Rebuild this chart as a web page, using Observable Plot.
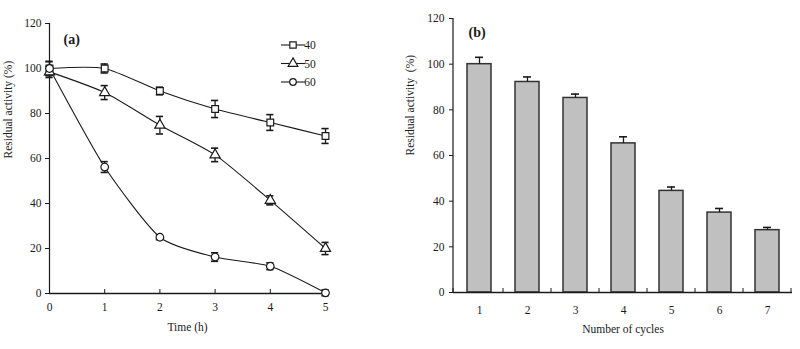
<!DOCTYPE html>
<html>
<head>
<meta charset="utf-8">
<script src="https://cdn.jsdelivr.net/npm/d3@7"></script>
<script src="https://cdn.jsdelivr.net/npm/@observablehq/plot@0.6"></script>
<style>
  body { margin: 0; background: #fff; font-family: 'Liberation Serif', serif; }
  #wrap { display: flex; width: 800px; height: 349px; }
  svg text { font-family: 'Liberation Serif', serif; }
</style>
</head>
<body>
<div id="wrap"></div>
<script>
// ---- Panel (a): residual activity vs time at three temperatures ----
const hours = [0, 1, 2, 3, 4, 5];
const seriesNames = ["40", "50", "60"];
const act40 = [100, 100, 90, 82, 76, 70];
const err40 = [3.2, 2.0, 1.7, 3.8, 3.5, 3.3];
const act50 = [98.5, 89.3, 74.8, 61.6, 41.4, 20];
const err50 = [2.5, 3.1, 3.9, 3.0, 2.0, 2.7];
const act60 = [100, 56.2, 25, 16.2, 12.1, 0.3];
const err60 = [3.0, 2.4, 1.1, 1.9, 1.5, 1.3];
const yTicks = [0, 20, 40, 60, 80, 100, 120];

// ---- Panel (b): residual activity vs number of cycles ----
const cycles = ["1", "2", "3", "4", "5", "6", "7"];
const cycleAct = [100, 92.2, 85.2, 65.3, 44.5, 35, 27.3];
const cycleErr = [3, 2.2, 1.7, 2.9, 1.7, 1.8, 1.2];

const font = "'Liberation Serif', serif";
const ink = "#1a1a1a";
const fs = 11.5;

const actBySeries = [act40, act50, act60];
const errBySeries = [err40, err50, err60];
const rowsA = seriesNames.flatMap((s, k) =>
  hours.map((h, i) => ({series: s, x: h, y: actBySeries[k][i], e: errBySeries[k][i]}))
);
const symbols = ["square", "triangle", "circle"];

const chartA = Plot.plot({
  width: 400, height: 349,
  marginLeft: 49, marginRight: 75, marginTop: 23, marginBottom: 56,
  style: {fontFamily: font, fontSize: fs + "px", color: ink, background: "white", overflow: "visible"},
  x: {domain: [0, 5]},
  y: {domain: [0, 120]},
  symbol: {domain: seriesNames, range: symbols},
  marks: [
    Plot.axisY({ticks: yTicks, tickSize: 4, tickPadding: 4, label: null, stroke: ink, tickFormat: d => String(d)}),
    Plot.axisX({ticks: hours, tickSize: 0, tickPadding: 9, label: null, tickFormat: d => String(d)}),
    Plot.axisX({ticks: hours.slice(1), tickSize: 4, dy: -4, text: null, label: null, stroke: ink}),
    Plot.ruleX([0], {y1: 0, y2: 120, stroke: ink, strokeWidth: 1.2}),
    Plot.ruleY([0], {stroke: ink, strokeWidth: 1.6}),
    Plot.line(rowsA, {x: "x", y: "y", z: "series", curve: "cardinal", tension: 0.35, stroke: ink, strokeWidth: 1.1}),
    Plot.ruleX(rowsA, {x: "x", y1: d => d.y - d.e, y2: d => d.y + d.e, stroke: ink, strokeWidth: 1.3}),
    Plot.ruleY(rowsA, {y: d => d.y + d.e, x1: d => d.x - 0.065, x2: d => d.x + 0.065, stroke: ink, strokeWidth: 1.6}),
    Plot.ruleY(rowsA, {y: d => d.y - d.e, x1: d => d.x - 0.065, x2: d => d.x + 0.065, stroke: ink, strokeWidth: 1.6}),
    Plot.dot(rowsA, {x: "x", y: "y", symbol: "series", r: 3.8, fill: "white", stroke: ink, strokeWidth: 1.2}),
    Plot.text(["(a)"], {frameAnchor: "top-left", dx: 14, dy: 11, textAnchor: "start", fontWeight: "bold", fontSize: 14}),
    Plot.text(["Residual activity (%)"], {frameAnchor: "left", dx: -41, rotate: -90, fontSize: fs}),
    Plot.text(["Time (h)"], {frameAnchor: "bottom", dy: 37, fontSize: fs})
  ]
});

// legend for panel (a)
{
  const svg = d3.select(chartA);
  const g = svg.append("g").attr("font-family", font).attr("font-size", fs).attr("fill", ink);
  seriesNames.forEach((s, i) => {
    const y = 45 + i * 18.5;
    g.append("line").attr("x1", 281).attr("x2", 305).attr("y1", y).attr("y2", y)
      .attr("stroke", ink).attr("stroke-width", 1.1);
    const sym = [d3.symbolSquare, d3.symbolTriangle, d3.symbolCircle][i];
    const r = i === 2 ? 3.3 : 3.6;
    g.append("path").attr("d", d3.symbol(sym, Math.PI * r * r)())
      .attr("transform", `translate(293,${y})`)
      .attr("fill", "white").attr("stroke", ink).attr("stroke-width", 1.2);
    g.append("text").attr("x", 310).attr("y", y).attr("dy", "0.35em").text(s);
  });
}

const rowsB = cycles.map((c, i) => ({c, v: cycleAct[i], e: cycleErr[i]}));

const chartB = Plot.plot({
  width: 400, height: 349,
  marginLeft: 53, marginRight: 8, marginTop: 18, marginBottom: 57,
  style: {fontFamily: font, fontSize: fs + "px", color: ink, background: "white", overflow: "visible"},
  x: {domain: cycles, paddingInner: 0.5, paddingOuter: 0.25},
  y: {domain: [0, 120]},
  marks: [
    Plot.barY(rowsB, {x: "c", y: "v", fill: "#c0c0c0", stroke: "#333", strokeWidth: 1.5}),
    Plot.ruleX(rowsB, {x: "c", y1: "v", y2: d => d.v + d.e, stroke: ink, strokeWidth: 1.3}),
    Plot.tickY(rowsB, {x: "c", y: d => d.v + d.e, insetLeft: 8, insetRight: 8, stroke: ink, strokeWidth: 1.6}),
    Plot.axisY({ticks: yTicks, tickSize: 4, tickPadding: 5, label: null, stroke: ink, tickFormat: d => String(d)}),
    Plot.axisX({tickSize: 0, tickPadding: 13, label: null}),
    Plot.ruleY([0], {stroke: ink, strokeWidth: 1.4}),
    Plot.text(["(b)"], {frameAnchor: "top-left", dx: 15, dy: 9, textAnchor: "start", fontWeight: "bold", fontSize: 14}),
    Plot.text(["Residual activity  (%)"], {frameAnchor: "left", dx: -43, rotate: -90, fontSize: fs}),
    Plot.text(["Number of cycles"], {frameAnchor: "bottom", dy: 40, fontSize: fs})
  ]
});

// y-axis line and between-category ticks for panel (b)
{
  const sx = chartB.scale("x"), sy = chartB.scale("y");
  const svg = d3.select(chartB);
  const y0 = sy.apply(0), yTop = sy.apply(120);
  const x0 = sx.range[0];
  const g = svg.append("g").attr("stroke", ink);
  g.append("line").attr("x1", x0).attr("x2", x0).attr("y1", y0).attr("y2", yTop).attr("stroke-width", 1.2);
  const bounds = [x0, ...cycles.map(c => sx.apply(c) + sx.bandwidth / 2 + sx.step / 2)];
  bounds.forEach(b => {
    g.append("line").attr("x1", b).attr("x2", b).attr("y1", y0).attr("y2", y0 - 4).attr("stroke-width", 1);
  });
}

document.getElementById("wrap").append(chartA, chartB);
</script>
</body>
</html>
